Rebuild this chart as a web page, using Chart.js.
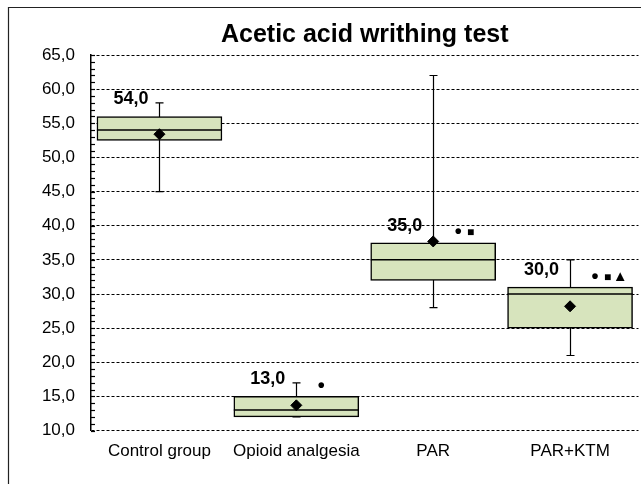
<!DOCTYPE html>
<html>
<head>
<meta charset="utf-8">
<script src="https://cdn.jsdelivr.net/npm/chart.js@4/dist/chart.umd.min.js"></script>
<style>
  html, body { margin: 0; padding: 0; background: #fff; overflow: hidden; }
</style>
</head>
<body>
<canvas id="grafico" width="645" height="484"></canvas>
<script>
const categories = ['Control group', 'Opioid analgesia', 'PAR', 'PAR+KTM']
const minVals = [45, 12, 28, 21]
const q1Vals = [52.5, 12, 32, 25]
const medianVals = [54, 13, 35, 30]
const q3Vals = [56, 15, 37.5, 31]
const maxVals = [58, 17, 62, 35]
const meanVals = [53.4, 13.7, 37.7, 28.2]
const signMarks = ['', '•', '•■', '•■▲']
const yMin = 10
const yMax = 65
const yStep = 5

const fmt = v => v.toFixed(1).replace('.', ',')

Chart.defaults.font.family = '"Liberation Sans", Arial, sans-serif'
Chart.defaults.color = '#000'

// dibuja bigotes, mediana, etiquetas y marcas de significancia
const boxExtras = {
    id: 'boxExtras',
    beforeDraw(chart) {
        const ctx = chart.ctx
        ctx.save()
        ctx.fillStyle = '#fff'
        ctx.fillRect(0, 0, chart.width, chart.height)
        ctx.strokeStyle = '#222'
        ctx.lineWidth = 1.2
        ctx.beginPath()
        ctx.moveTo(8.5, chart.height)
        ctx.lineTo(8.5, 7.5)
        ctx.lineTo(chart.width, 7.5)
        ctx.stroke()
        ctx.restore()
    },
    beforeDatasetsDraw(chart) {
        const ctx = chart.ctx
        const x = chart.scales.x, y = chart.scales.y
        ctx.save()
        ctx.strokeStyle = '#000'
        ctx.lineWidth = 1.2
        // marcas menores del eje
        for (let v = yMin; v <= yMax; v++) {
            const py = Math.round(y.getPixelForValue(v)) + 0.5
            ctx.beginPath()
            ctx.moveTo(x.left, py)
            ctx.lineTo(x.left + 4, py)
            ctx.stroke()
        }
        categories.forEach((c, i) => {
            const px = Math.round(x.getPixelForValue(i)) + 0.5
            const top = y.getPixelForValue(maxVals[i])
            const bot = y.getPixelForValue(minVals[i])
            ctx.beginPath()
            ctx.moveTo(px, top)
            ctx.lineTo(px, bot)
            ctx.moveTo(px - 4, top)
            ctx.lineTo(px + 4, top)
            ctx.moveTo(px - 4, bot)
            ctx.lineTo(px + 4, bot)
            ctx.stroke()
        })
        ctx.restore()
    },
    afterDatasetDraw(chart, args) {
        if (args.index !== 1) return
        const ctx = chart.ctx
        const y = chart.scales.y
        ctx.save()
        ctx.strokeStyle = '#000'
        ctx.lineWidth = 1.5
        args.meta.data.forEach((bar, i) => {
            const py = y.getPixelForValue(medianVals[i])
            ctx.beginPath()
            ctx.moveTo(bar.x - bar.width / 2, py)
            ctx.lineTo(bar.x + bar.width / 2, py)
            ctx.stroke()
        })
        ctx.restore()
    },
    afterDatasetsDraw(chart) {
        const ctx = chart.ctx
        const x = chart.scales.x, y = chart.scales.y
        ctx.save()
        categories.forEach((c, i) => {
            const px = x.getPixelForValue(i)
            const top = y.getPixelForValue(q3Vals[i])
            ctx.font = 'bold 18px "Liberation Sans", Arial'
            ctx.fillStyle = '#000'
            ctx.textAlign = 'right'
            ctx.textBaseline = 'middle'
            ctx.fillText(fmt(medianVals[i]), px - 11, top - 17)
            ctx.textAlign = 'center'
            Array.from(signMarks[i]).forEach((s, k) => {
                let size = 12
                if (s === '•') size = 20
                if (s === '▲') size = 15
                ctx.font = 'bold ' + size + 'px "Liberation Sans", Arial'
                ctx.fillText(s, px + 25 + k * 12.5, top - 10)
            })
        })
        ctx.restore()
    }
}

const data_grafico = {
    labels: categories,
    datasets: [{
        type: 'line',
        label: 'Media',
        data: meanVals,
        showLine: false,
        pointStyle: 'rectRot',
        pointRadius: 5.5,
        pointBackgroundColor: '#000',
        pointBorderColor: '#000',
        order: 0
    }, {
        type: 'bar',
        label: 'Caja',
        data: q1Vals.map((v, i) => [v, q3Vals[i]]),
        backgroundColor: '#d7e4bd',
        borderColor: '#000',
        borderWidth: 1.5,
        borderSkipped: false,
        barThickness: 125,
        order: 1
    }]
}

const config = {
    type: 'bar',
    data: data_grafico,
    plugins: [boxExtras],
    options: {
        responsive: false,
        animation: false,
        devicePixelRatio: 1,
        layout: { padding: { top: 0, right: 1, bottom: 11, left: 0 } },
        plugins: {
            legend: { display: false },
            tooltip: { enabled: false },
            title: {
                display: true,
                text: 'Acetic acid writhing test',
                fullSize: false,
                color: '#000',
                font: { size: 25, weight: 'bold' },
                padding: { top: 20, bottom: 5 }
            }
        },
        scales: {
            x: {
                grid: { display: false, drawTicks: false },
                border: { display: false },
                ticks: { font: { size: 17 }, padding: 11, color: '#000', maxRotation: 0 }
            },
            y: {
                min: yMin,
                max: yMax,
                afterFit: s => { s.width = 91 },
                ticks: { stepSize: yStep, callback: v => fmt(v), font: { size: 17 }, padding: 16, color: '#000' },
                grid: { color: '#000', lineWidth: 1, drawTicks: false },
                border: { display: true, color: '#000', width: 1.5, dash: [3, 2] }
            }
        }
    }
}

new Chart(document.querySelector('#grafico'), config)
</script>
</body>
</html>
